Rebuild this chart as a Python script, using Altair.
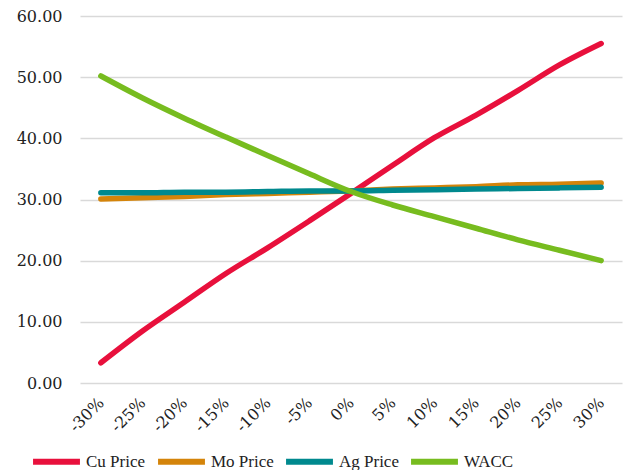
import altair as alt
import pandas as pd

categories = ["-30%", "-25%", "-20%", "-15%", "-10%", "-5%", "0%", "5%", "10%", "15%", "20%", "25%", "30%"]
cu_price = [3.3, 8.5, 13.2, 17.9, 22.1, 26.5, 31.0, 35.6, 40.1, 43.8, 47.8, 52.0, 55.5]
mo_price = [30.1, 30.3, 30.5, 30.8, 31.0, 31.2, 31.4, 31.7, 31.9, 32.1, 32.4, 32.5, 32.7]
ag_price = [31.1, 31.1, 31.2, 31.2, 31.3, 31.4, 31.4, 31.5, 31.6, 31.7, 31.8, 31.9, 32.0]
wacc = [50.2, 46.6, 43.3, 40.2, 37.2, 34.2, 31.3, 29.1, 27.2, 25.3, 23.4, 21.7, 20.0]

series_names = ["Cu Price", "Mo Price", "Ag Price", "WACC"]
series_colors = ["#E8103C", "#D4840A", "#00898E", "#77BC1F"]

rows = []
for name, vals in zip(series_names, [cu_price, mo_price, ag_price, wacc]):
    for c, v in zip(categories, vals):
        rows.append({"cat": c, "value": v, "series": name})
df = pd.DataFrame(rows)

font = "DejaVu Serif"
legend_font = "Liberation Serif"

chart = alt.Chart(df).mark_line(strokeWidth=5.5, strokeCap="round", strokeJoin="round", interpolate="monotone").encode(
    x=alt.X("cat:N", sort=categories, title=None,
            scale=alt.Scale(type="point", padding=0.5),
            axis=alt.Axis(labelAngle=-45, labelAlign="right", labelBaseline="middle",
                          labelFont=font, labelFontSize=16, labelColor="#222222",
                          labelPadding=17, ticks=False, domain=False, grid=False)),
    y=alt.Y("value:Q", title=None,
            scale=alt.Scale(domain=[0, 60], nice=False),
            axis=alt.Axis(values=[0, 10, 20, 30, 40, 50, 60], format=".2f",
                          labelFont=font, labelFontSize=16, labelColor="#222222",
                          labelPadding=18, ticks=False, domain=False,
                          gridColor="#D9D9D9", gridWidth=1.5)),
    color=alt.Color("series:N", sort=series_names,
                    scale=alt.Scale(domain=series_names, range=series_colors),
                    legend=alt.Legend(title=None, orient="none", direction="horizontal",
                                      columns=4, legendX=-50, legendY=419,
                                      symbolType="stroke", symbolSize=2200, symbolStrokeWidth=6,
                                      labelFont=legend_font, labelFontSize=17, labelColor="#222222",
                                      labelOffset=3, columnPadding=0)),
    order=alt.Order("series_order:Q"),
).transform_calculate(
    series_order="indexof(['Cu Price','Mo Price','Ag Price','WACC'], datum.series)"
).properties(
    width=542, height=367,
    autosize=alt.AutoSizeParams(type="none"),
    padding={"left": 80, "top": 16, "right": 3, "bottom": 87},
).configure_view(stroke=None)

chart.save("out.html", embed_options={"renderer": "svg", "actions": False})
